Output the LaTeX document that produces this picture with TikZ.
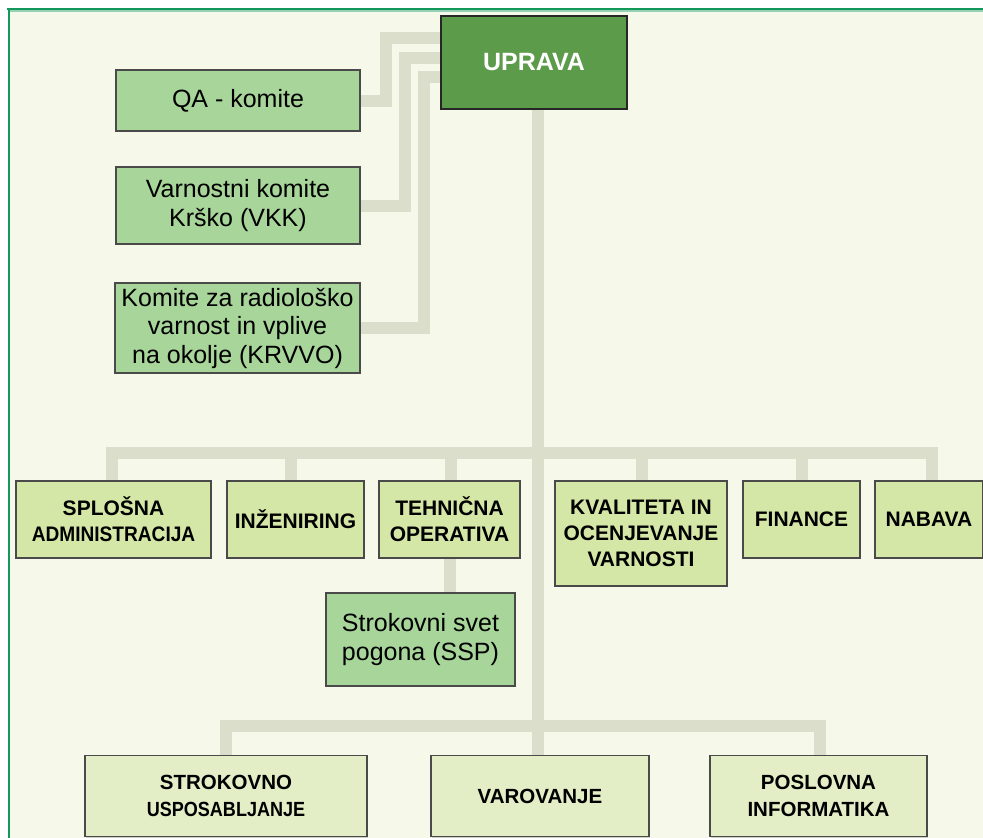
\documentclass[tikz,border=0pt]{standalone}
\usepackage{fontspec}
\setmainfont{Liberation Sans}
\usetikzlibrary{shadows}
\definecolor{bgcol}{HTML}{F6F8E9}
\definecolor{conncol}{HTML}{DCDECC}
\definecolor{commfill}{HTML}{A8D59A}
\definecolor{deptfill}{HTML}{D4E7A6}
\definecolor{lowfill}{HTML}{E3EDC6}
\definecolor{upfill}{HTML}{5C9B49}
\definecolor{bordcol}{HTML}{4A4A4A}
\definecolor{framecol}{HTML}{14985A}
\pgfdeclarelayer{bglayer}
\pgfsetlayers{bglayer,main}
\begin{document}
\begin{tikzpicture}[x=1pt,y=-1pt,
  conn/.style={draw=conncol, line width=12pt},
  boxbase/.style={draw=bordcol, line width=1.4pt, inner sep=2pt, align=center,
    drop shadow={shadow xshift=1.3pt, shadow yshift=-1.3pt, opacity=0.35}},
  comm/.style={boxbase, fill=commfill, font=\fontsize{25}{28.5}\selectfont},
  dept/.style={boxbase, fill=deptfill, font=\fontsize{21}{26}\selectfont\bfseries},
  lower/.style={boxbase, fill=lowfill, font=\fontsize{20.5}{27}\selectfont\bfseries},
  upr/.style={boxbase, draw=black!85, line width=1.8pt, fill=upfill, text=white,
    font=\fontsize{25}{30}\selectfont\bfseries},
  wh/.style 2 args={minimum width=#1pt, minimum height=#2pt}
]
\path[use as bounding box] (0,0) rectangle (983,838);

% boxes
\node[upr, wh={186}{93}] (uprava) at (534,62.5) {UPRAVA};
\node[comm, wh={244}{61}] (qa) at (238,100.5) {QA - komite};
\node[comm, wh={244}{77}] (vkk) at (238,205.5) {Varnostni komite\\Krško (VKK)};
\node[comm, wh={245}{90}] (krvvo) at (237.5,328) {Komite za radiološko\\varnost in vplive\\na okolje (KRVVO)};

\node[dept, wh={195}{77}] (spl) at (113.5,519.5) {SPLOŠNA\\\scalebox{0.91}[1]{ADMINISTRACIJA}};
\node[dept, wh={137}{77}] (inz) at (295.5,519.5) {INŽENIRING};
\node[dept, wh={141}{77}] (teh) at (449.5,519.5) {TEHNIČNA\\OPERATIVA};
\node[dept, wh={172}{105}] (kva) at (641,533.5) {KVALITETA IN\\OCENJEVANJE\\VARNOSTI};
\node[dept, wh={117}{77}] (fin) at (801.5,519.5) {FINANCE};
\node[dept, wh={108}{77}] (nab) at (929,519.5) {NABAVA};

\node[comm, wh={189}{93}] (ssp) at (420.5,639.5) {Strokovni svet\\pogona (SSP)};

\node[lower, wh={282}{81}] (str) at (226,796) {STROKOVNO\\\scalebox{0.88}[1]{USPOSABLJANJE}};
\node[lower, wh={218}{81}] (var) at (540,796) {VAROVANJE};
\node[lower, wh={217}{81}] (pos) at (818.5,796) {POSLOVNA\\INFORMATIKA};

% coordinates for connector routing
\coordinate (q1) at (386,38);
\coordinate (q2) at (405,58);
\coordinate (q3) at (424,77);
\coordinate (tr) at (538,0);
\coordinate (d1) at (112,452.5);
\coordinate (d2) at (291,452.5);
\coordinate (d3) at (451,452.5);
\coordinate (d4) at (642,452.5);
\coordinate (d5) at (802,452.5);
\coordinate (d6) at (932,452.5);
\coordinate (ts) at (450,0);
\coordinate (b1) at (226,726);
\coordinate (b3) at (820,726);

\begin{pgfonlayer}{bglayer}
  \fill[white] (0,0) rectangle (983,838);
  \fill[bgcol] (9,10) rectangle (983,838);
  \draw[framecol!45, line width=1.5pt] (9,11) -- (983,11);
  \draw[framecol, line width=2.4pt] (7,8.7) -- (983,8.7);
  \draw[framecol, line width=2.2pt] (8.6,7.5) -- (8.6,838);

  % committee connectors
  \draw[conn] (qa.east) -| (q1) -- (q1 -| uprava.west);
  \draw[conn] (vkk.east) -| (q2) -- (q2 -| uprava.west);
  \draw[conn] (krvvo.east) -| (q3) -- (q3 -| uprava.west);

  % trunk
  \draw[conn] (uprava.south -| tr) -- (var.north -| tr);

  % upper bus
  \draw[conn] (spl.north -| d1) -- (d1) -- (d6) -- (nab.north -| d6);
  \draw[conn] (inz.north -| d2) -- (d2);
  \draw[conn] (teh.north -| d3) -- (d3);
  \draw[conn] (kva.north -| d4) -- (d4);
  \draw[conn] (fin.north -| d5) -- (d5);

  % technical to SSP
  \draw[conn] (teh.south -| ts) -- (ssp.north -| ts);

  % lower bus
  \draw[conn] (str.north -| b1) -- (b1) -- (b3) -- (pos.north -| b3);
\end{pgfonlayer}
\end{tikzpicture}
\end{document}
